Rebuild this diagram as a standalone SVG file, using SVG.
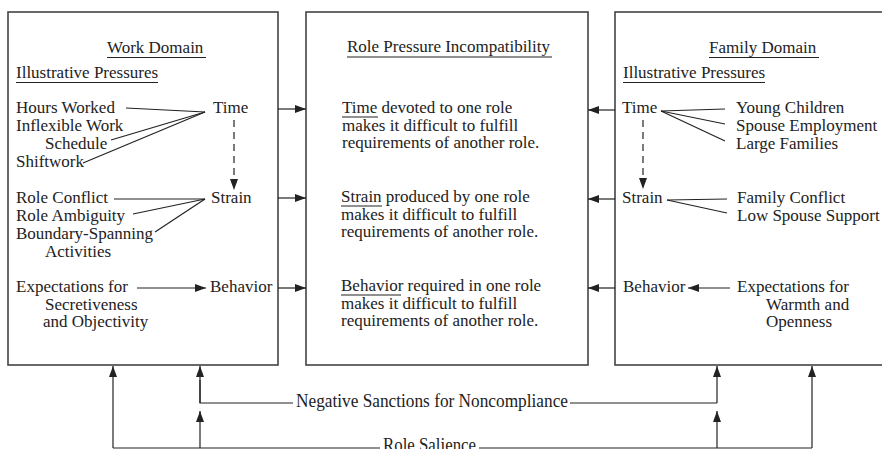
<svg xmlns="http://www.w3.org/2000/svg" width="882" height="449" viewBox="0 0 882 449">
<defs>
<marker id="ah" viewBox="0 0 11 8" refX="11" refY="4" markerWidth="11" markerHeight="8" markerUnits="userSpaceOnUse" orient="auto">
<path d="M0,0 L11,4 L0,8 z" fill="#222"/>
</marker>
<style>
.box{fill:#fff;stroke:#444;stroke-width:1.6}
.t{font-family:"Liberation Serif","Times New Roman",serif;font-size:17px;fill:#222}
.ln{stroke:#222;stroke-width:1.2;fill:none}
.ul{stroke:#222;stroke-width:1.1}
.ar{stroke:#222;stroke-width:1.2;fill:none;marker-end:url(#ah)}
.da{stroke:#222;stroke-width:1.2;fill:none;stroke-dasharray:7,5;marker-end:url(#ah)}
</style>
</defs>
<rect width="882" height="449" fill="#fff"/>

<g id="work-domain">
<rect class="box" x="8" y="12" width="270" height="353"/>
<text class="t" x="107" y="53">Work Domain</text>
<line class="ul" x1="107" y1="57.5" x2="206" y2="57.5"/>
<text class="t" x="16" y="78">Illustrative Pressures</text>
<line class="ul" x1="16" y1="82.5" x2="158" y2="82.5"/>
<text class="t" x="16" y="113">Hours Worked</text>
<text class="t" x="16" y="131">Inflexible Work</text>
<text class="t" x="45" y="149">Schedule</text>
<text class="t" x="16" y="167">Shiftwork</text>
<text class="t" x="213" y="113">Time</text>
<text class="t" x="16" y="203">Role Conflict</text>
<text class="t" x="16" y="221">Role Ambiguity</text>
<text class="t" x="16" y="239">Boundary-Spanning</text>
<text class="t" x="45" y="257">Activities</text>
<text class="t" x="211" y="203">Strain</text>
<text class="t" x="16" y="292">Expectations for</text>
<text class="t" x="45" y="309.5">Secretiveness</text>
<text class="t" x="43" y="327">and Objectivity</text>
<text class="t" x="210" y="292">Behavior</text>
</g>

<g id="role-pressure-incompatibility">
<rect class="box" x="306" y="12" width="282" height="353"/>
<text class="t" x="347" y="52">Role Pressure Incompatibility</text>
<line class="ul" x1="347" y1="57" x2="552" y2="57"/>
<text class="t" x="342" y="113">Time devoted to one role</text>
<line class="ul" x1="342" y1="117" x2="378" y2="117"/>
<text class="t" x="342" y="130.5">makes it difficult to fulfill</text>
<text class="t" x="342" y="148">requirements of another role.</text>
<text class="t" x="341" y="202">Strain produced by one role</text>
<line class="ul" x1="341" y1="206" x2="382" y2="206"/>
<text class="t" x="341" y="219.5">makes it difficult to fulfill</text>
<text class="t" x="341" y="237">requirements of another role.</text>
<text class="t" x="341" y="291">Behavior required in one role</text>
<line class="ul" x1="341" y1="295" x2="401" y2="295"/>
<text class="t" x="341" y="308.5">makes it difficult to fulfill</text>
<text class="t" x="341" y="326">requirements of another role.</text>
</g>

<g id="family-domain">
<rect class="box" x="615" y="12" width="280" height="353"/>
<text class="t" x="709" y="53">Family Domain</text>
<line class="ul" x1="709" y1="57.5" x2="819" y2="57.5"/>
<text class="t" x="623" y="78">Illustrative Pressures</text>
<line class="ul" x1="623" y1="82.5" x2="765" y2="82.5"/>
<text class="t" x="622" y="113">Time</text>
<text class="t" x="736" y="113">Young Children</text>
<text class="t" x="736" y="131">Spouse Employment</text>
<text class="t" x="736" y="149">Large Families</text>
<text class="t" x="622" y="203">Strain</text>
<text class="t" x="737" y="203">Family Conflict</text>
<text class="t" x="737" y="221">Low Spouse Support</text>
<text class="t" x="623" y="292">Behavior</text>
<text class="t" x="737" y="292">Expectations for</text>
<text class="t" x="766" y="309.5">Warmth and</text>
<text class="t" x="766" y="327">Openness</text>
</g>

<g id="negative-sanctions">
<text class="t" x="296" y="407" textLength="272" lengthAdjust="spacingAndGlyphs" style="font-size:18px">Negative Sanctions for Noncompliance</text>
</g>
<g id="role-salience">
<text class="t" x="383" y="451" textLength="93" lengthAdjust="spacingAndGlyphs" style="font-size:18px">Role Salience</text>
</g>

<g id="connectors">
<line class="ln" x1="126" y1="108" x2="205" y2="112"/>
<line class="ln" x1="111" y1="140" x2="205" y2="112"/>
<line class="ln" x1="83" y1="163" x2="205" y2="112"/>
<line class="ln" x1="114" y1="199" x2="205" y2="199"/>
<line class="ln" x1="133" y1="214" x2="205" y2="199"/>
<line class="ln" x1="155" y1="232" x2="205" y2="199"/>
<line class="ar" x1="137" y1="288" x2="206" y2="288"/>
<line class="da" x1="234" y1="120" x2="234" y2="190"/>
<line class="ln" x1="661" y1="111" x2="725" y2="109"/>
<line class="ln" x1="661" y1="111" x2="725" y2="124"/>
<line class="ln" x1="661" y1="111" x2="725" y2="141"/>
<line class="ln" x1="667" y1="200" x2="727" y2="199"/>
<line class="ln" x1="667" y1="200" x2="727" y2="213"/>
<line class="ar" x1="730" y1="288" x2="688" y2="288"/>
<line class="da" x1="643" y1="120" x2="643" y2="189"/>
<line class="ar" x1="278" y1="109" x2="306" y2="109"/>
<line class="ar" x1="278" y1="198" x2="306" y2="198"/>
<line class="ar" x1="278" y1="288" x2="306" y2="288"/>
<line class="ar" x1="615" y1="110" x2="588" y2="110"/>
<line class="ar" x1="615" y1="199" x2="588" y2="199"/>
<line class="ar" x1="615" y1="288" x2="588" y2="288"/>
<polyline class="ln" points="293,403 200,403 200,380"/>
<line class="ar" x1="200" y1="403" x2="200" y2="366"/>
<polyline class="ln" points="570,403 717,403"/>
<line class="ar" x1="717" y1="403" x2="717" y2="366"/>
<polyline class="ln" points="380,448 113,448"/>
<line class="ar" x1="113" y1="448" x2="113" y2="366"/>
<line class="ar" x1="200" y1="448" x2="200" y2="411"/>
<polyline class="ln" points="479,448 812,448"/>
<line class="ar" x1="717" y1="448" x2="717" y2="411"/>
<line class="ar" x1="812" y1="448" x2="812" y2="366"/>
</g>
</svg>
